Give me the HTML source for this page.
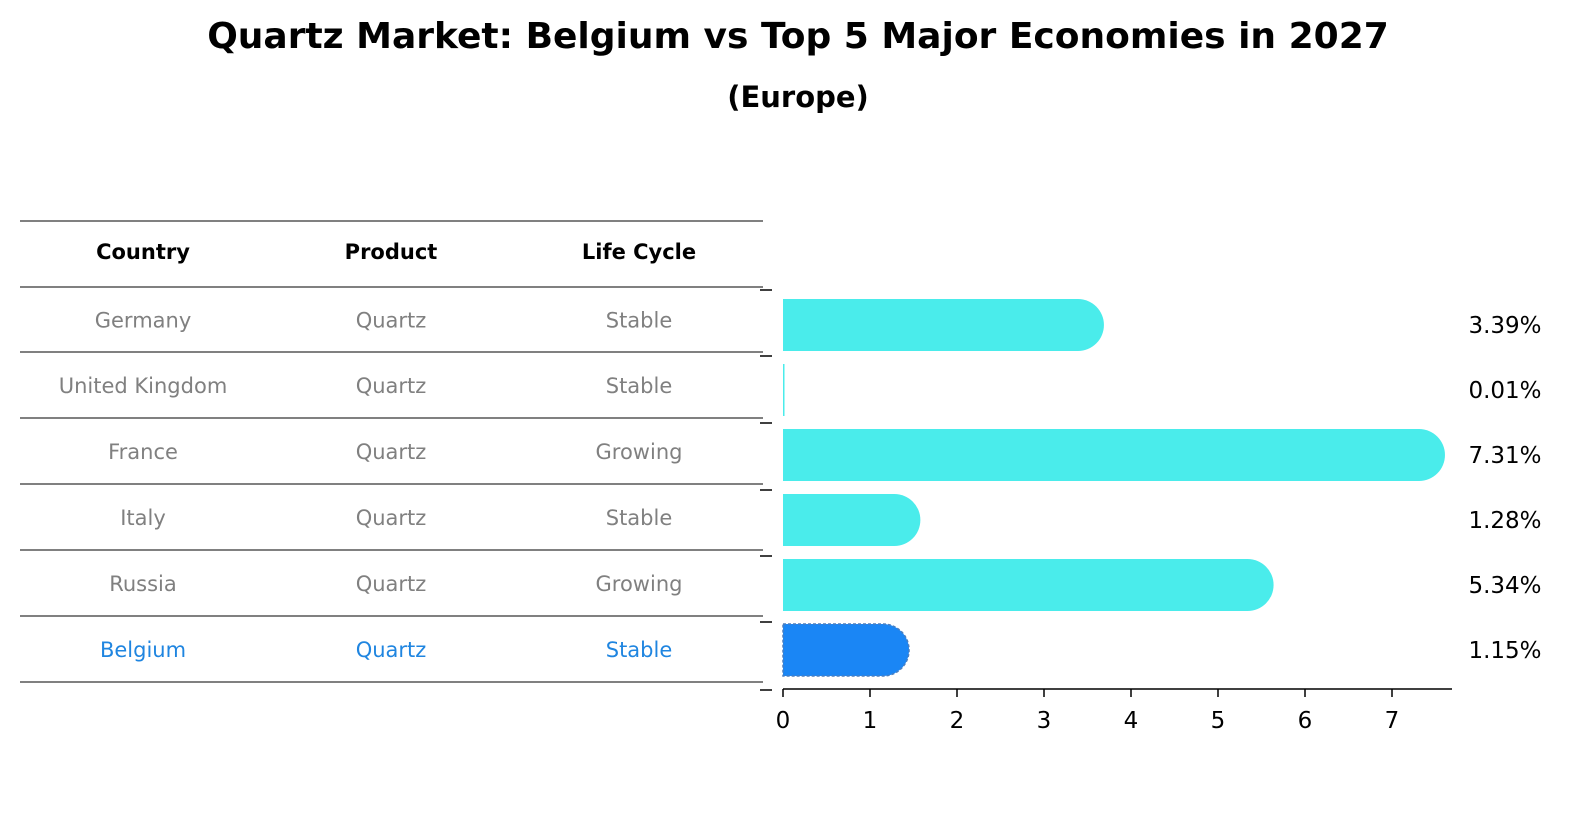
<!DOCTYPE html>
<html style="overflow:hidden"><head><meta charset="utf-8"><style>
html,body{margin:0;padding:0;overflow:hidden}
body{width:1586px;height:823px;background:#fff;font-family:"Liberation Sans","DejaVu Sans",sans-serif;position:relative}
.t{position:absolute;text-align:center;white-space:nowrap}
</style></head><body>
<div class="t" style="left:10px;width:1576px;top:16px;font-size:36px;font-weight:bold;font-family:'DejaVu Sans',sans-serif">Quartz Market: Belgium vs Top 5 Major Economies in 2027</div>
<div class="t" style="left:10px;width:1576px;top:80px;font-size:29px;font-weight:bold;font-family:'DejaVu Sans',sans-serif">(Europe)</div>
<svg id="c" width="1586" height="823" style="position:absolute;left:0;top:0" font-family="DejaVu Sans, sans-serif"></svg>
<script>
const countries=["Germany","United Kingdom","France","Italy","Russia","Belgium"];
const products=["Quartz","Quartz","Quartz","Quartz","Quartz","Quartz"];
const lifecycles=["Stable","Stable","Growing","Stable","Growing","Stable"];
const values=[3.39,0.01,7.31,1.28,5.34,1.15];
const ticks=[0,1,2,3,4,5,6,7];
const NS="http://www.w3.org/2000/svg";
const svg=document.getElementById('c');
function mk(t,a,p){const e=document.createElementNS(NS,t);for(const k in a)e.setAttribute(k,a[k]);(p||svg).appendChild(e);return e;}
const x=v=>783+v*87;
const rowY=i=>325+i*65;
const lineY=[221,287,352,418,484,550,616,682];
const hdr=["Country","Product","Life Cycle"],cx=[143,391,639];
lineY.forEach((y,i)=>{const l=mk('line',{x1:20,x2:763,y1:y,y2:y,stroke:'#000','stroke-width':1});

});
hdr.forEach((h,j)=>{const t=mk('text',{x:cx[j],y:259,'text-anchor':'middle','font-size':21,'font-weight':'bold'});t.textContent=h;

});
countries.forEach((c,i)=>{const col=i==5?'#1f85e0':'#808080';const y=lineY[i+1]+(lineY[i+2]-lineY[i+1])/2+8;
[c,products[i],lifecycles[i]].forEach((s,j)=>{const t=mk('text',{x:cx[j],y:y,'text-anchor':'middle','font-size':21,fill:col});t.textContent=s;

});});
[290,356,423,490,556,622,690].forEach(y=>{const l=mk('line',{x1:760,x2:772,y1:y,y2:y,stroke:'#000','stroke-width':1.5});

});
values.forEach((v,i)=>{const cy=rowY(i),h=52,r=26;const col=i==5?'#1a86f5':'#4aeceb';
let d;
if(v<0.05){d=`M${x(0)},${cy-h/2}h1.5v${h}h-1.5z`;}
else d=`M${x(0)},${cy-h/2}H${x(v)}A${r},${r} 0 0 1 ${x(v)},${cy+h/2}H${x(0)}Z`;
const p=mk('path',{d:d,fill:col});
if(i==5){p.setAttribute('stroke','#4a7fc0');p.setAttribute('stroke-dasharray','3,2');p.setAttribute('stroke-width','1.5');}


const t=mk('text',{x:1505,y:cy+8,'text-anchor':'middle','font-size':23});t.textContent=v.toFixed(2)+'%';

});
const ax=mk('line',{x1:783,x2:1452,y1:689,y2:689,stroke:'#000','stroke-width':1.5});


ticks.forEach(v=>{const l=mk('line',{x1:x(v),x2:x(v),y1:689,y2:697,stroke:'#000','stroke-width':1.5});


const t=mk('text',{x:x(v),y:728,'text-anchor':'middle','font-size':23});t.textContent=v;

});
</script>
</body></html>
